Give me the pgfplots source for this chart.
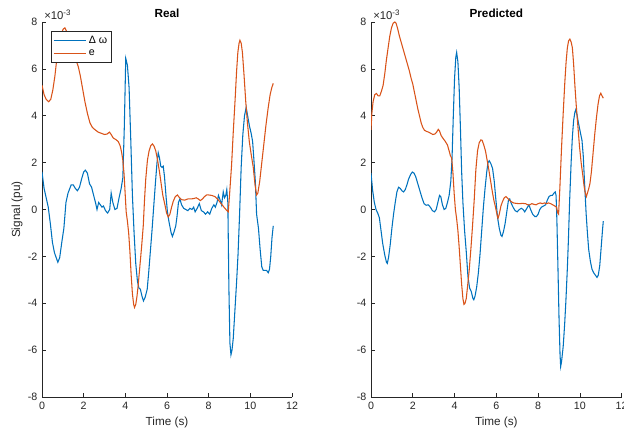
\documentclass[border=0pt]{standalone}
\usepackage{fontspec}
\setmainfont{Liberation Sans}
\usepackage{pgfplots}
\pgfplotsset{compat=1.18}
\definecolor{mblue}{rgb}{0,0.447,0.741}
\definecolor{morange}{rgb}{0.85,0.325,0.098}
\definecolor{mgray}{rgb}{0.15,0.15,0.15}

% matlab-ish subplot look
\pgfplotsset{msub/.style={
  scale only axis, width=187.5pt, height=281.25pt,
  xmin=0, xmax=12, ymin=-8, ymax=8,
  axis x line*=bottom, axis y line*=left,
  axis line style={-, draw=mgray, line width=0.5pt},
  tick align=inside, major tick length=2.8pt,
  tick style={draw=mgray, line width=0.5pt},
  xtick={0,2,...,12}, ytick={-8,-6,...,8},
  /pgf/number format/assume math mode=true,
  tick label style={font=\fontsize{8}{9}\selectfont, text=mgray},
  label style={font=\fontsize{8.8}{10}\selectfont, text=mgray},
  title style={font=\bfseries\fontsize{8.8}{10}\selectfont, text=black,
    at={(axis description cs:0.5,1)}, anchor=center, yshift=0.6pt},
  xlabel style={at={(axis description cs:0.5,-0.0685)}, anchor=center},
  ylabel style={at={(axis description cs:-0.1,0.5)}, anchor=center},
  clip mode=individual,
  every axis plot/.append style={line width=0.8pt},
}}

\begin{document}
\begin{tikzpicture}
\useasboundingbox (0,0) rectangle (468pt,324pt);

\begin{axis}[msub, name=L, at={(31.5pt,26.25pt)}, anchor=south west,
  title={Real}, xlabel={Time (s)}, ylabel={Signal (pu)},
  legend style={at={(axis description cs:0.036,0.976)}, anchor=north west,
    draw=mgray, line width=0.5pt, fill=white, inner sep=1.3pt,
    font=\fontsize{8}{9}\selectfont, text=black, row sep=-0.5pt},
  legend cell align=left,
  legend image code/.code={\draw[#1] (0pt,0pt) -- (24pt,0pt);}]
\addplot[mblue] coordinates {
(0,1.6) (0.1,0.9) (0.2,0.5) (0.3,0.1) (0.4,-0.6) (0.5,-1.4) (0.6,-1.85) (0.7,-2.1) (0.76,-2.25)
(0.85,-2.05) (0.95,-1.4) (1.05,-0.8) (1.15,0.3) (1.25,0.7) (1.4,1.05) (1.5,1.05) (1.6,0.9)
(1.7,0.8) (1.8,0.95) (1.9,1.3) (2.0,1.6) (2.08,1.68) (2.18,1.55) (2.28,1.1) (2.38,0.95)
(2.48,0.6) (2.58,0.25) (2.64,0.0) (2.72,0.3) (2.8,0.2) (2.88,0.1) (2.95,0.15) (3.05,-0.05)
(3.15,-0.15) (3.25,0.0) (3.32,0.7) (3.4,0.3) (3.5,0.0) (3.6,0.05) (3.7,0.5) (3.8,0.9)
(3.88,1.35) (3.95,3.5) (4.02,6.45) (4.1,6.15) (4.18,5.2) (4.26,3.0) (4.34,0.6) (4.42,-1.0)
(4.5,-2.3) (4.58,-3.05) (4.65,-3.35) (4.72,-3.4) (4.8,-3.7) (4.87,-3.9) (4.95,-3.75)
(5.05,-3.4) (5.12,-2.7) (5.2,-1.8) (5.28,-0.9) (5.36,0.1) (5.45,1.2) (5.52,2.0) (5.58,2.42)
(5.64,2.2) (5.7,1.85) (5.76,1.8) (5.82,1.85) (5.88,1.4) (5.95,0.6) (6.02,-0.1) (6.1,-0.55)
(6.2,-1.0) (6.26,-1.15) (6.34,-0.95) (6.42,-0.7) (6.48,-0.3) (6.55,0.3) (6.62,0.45) (6.7,0.2)
(6.8,0.05) (6.9,0.0) (7.0,-0.05) (7.1,0.05) (7.2,0.0) (7.28,0.1) (7.35,-0.1) (7.45,0.05)
(7.55,0.25) (7.65,-0.05) (7.75,-0.1) (7.85,-0.2) (7.95,-0.1) (8.05,-0.2) (8.15,0.05)
(8.25,0.2) (8.32,0.1) (8.4,0.3) (8.47,0.6) (8.55,0.4) (8.62,0.2) (8.7,0.75) (8.76,0.5)
(8.82,0.6) (8.87,0.85) (8.92,0.3) (8.97,-3.3) (9.02,-5.7) (9.07,-6.2) (9.12,-6.0) (9.18,-5.5)
(9.26,-4.3) (9.34,-3.1) (9.41,-1.9) (9.48,-0.3) (9.56,1.8) (9.64,3.2) (9.72,4.0) (9.8,4.35)
(9.88,3.95) (9.96,3.55) (10.04,3.25) (10.11,2.9) (10.18,2.0) (10.24,1.2) (10.3,-0.2)
(10.39,-0.8) (10.47,-1.7) (10.55,-2.45) (10.62,-2.6) (10.7,-2.6) (10.78,-2.6) (10.86,-2.7)
(10.92,-2.55) (10.98,-2.0) (11.04,-1.2) (11.1,-0.7)
};
\addlegendentry{Δ ω}
\addplot[morange] coordinates {
(0,5.3) (0.1,4.9) (0.2,4.7) (0.32,4.6) (0.42,4.7) (0.52,5.1) (0.62,5.7) (0.72,6.5) (0.82,7.1)
(0.92,7.5) (1.02,7.7) (1.1,7.75) (1.18,7.6) (1.26,7.4) (1.38,7.0) (1.5,6.7) (1.62,6.4)
(1.74,6.1) (1.84,5.7) (1.94,5.2) (2.06,4.6) (2.18,4.1) (2.3,3.7) (2.42,3.5) (2.55,3.4)
(2.7,3.3) (2.85,3.25) (3.0,3.2) (3.12,3.22) (3.24,3.3) (3.32,3.2) (3.42,3.05) (3.55,2.98)
(3.66,2.9) (3.75,2.72) (3.82,2.45) (3.88,2.1) (3.94,1.5) (3.99,0.7) (4.04,-0.1) (4.1,-0.5)
(4.16,-1.0) (4.22,-1.8) (4.28,-2.8) (4.34,-3.6) (4.4,-4.05) (4.44,-4.18) (4.5,-4.05)
(4.56,-3.7) (4.62,-3.2) (4.7,-2.4) (4.78,-1.6) (4.86,-0.7) (4.92,0.4) (4.98,1.3) (5.06,2.1)
(5.14,2.5) (5.22,2.72) (5.3,2.8) (5.38,2.7) (5.46,2.5) (5.55,2.1) (5.64,1.6) (5.72,1.1)
(5.8,0.6) (5.9,0.2) (5.98,-0.15) (6.06,-0.32) (6.14,-0.2) (6.22,0.1) (6.3,0.35) (6.4,0.55)
(6.5,0.62) (6.6,0.5) (6.7,0.42) (6.85,0.4) (7.0,0.45) (7.15,0.45) (7.3,0.47) (7.4,0.5)
(7.5,0.45) (7.6,0.38) (7.7,0.45) (7.8,0.55) (7.9,0.62) (8.0,0.62) (8.15,0.6) (8.3,0.55)
(8.45,0.42) (8.6,0.25) (8.75,0.08) (8.88,-0.05) (8.94,-0.1) (9.0,0.6) (9.1,1.9) (9.18,3.3)
(9.27,4.7) (9.34,5.9) (9.4,6.7) (9.46,7.1) (9.5,7.22) (9.56,7.1) (9.62,6.7) (9.7,5.7)
(9.78,4.6) (9.86,3.7) (9.95,2.9) (10.05,2.3) (10.14,1.8) (10.22,1.1) (10.3,0.62) (10.36,0.7)
(10.45,1.2) (10.55,2.0) (10.65,2.8) (10.75,3.6) (10.85,4.3) (10.95,4.9) (11.03,5.2) (11.1,5.38)
};
\addlegendentry{e}
\end{axis}

\begin{axis}[msub, name=R, at={(278.25pt,26.25pt)}, anchor=south west, width=188pt,
  title={Predicted}, xlabel={Time (s)}]
\addplot[mblue] coordinates {
(0,1.55) (0.08,0.8) (0.16,0.3) (0.24,0.0) (0.32,-0.15) (0.4,-0.35) (0.48,-0.9) (0.56,-1.45)
(0.66,-1.95) (0.74,-2.25) (0.78,-2.3) (0.84,-2.05) (0.92,-1.5) (1.0,-0.8) (1.08,-0.2)
(1.16,0.3) (1.24,0.75) (1.32,0.95) (1.4,0.9) (1.48,0.8) (1.56,0.75) (1.64,0.85) (1.72,1.05)
(1.8,1.3) (1.9,1.5) (1.98,1.6) (2.06,1.55) (2.14,1.4) (2.24,1.1) (2.34,0.8) (2.44,0.5)
(2.54,0.25) (2.64,0.18) (2.74,0.2) (2.84,0.1) (2.94,-0.05) (3.04,-0.1) (3.12,0.0) (3.2,0.3)
(3.28,0.6) (3.34,0.55) (3.42,0.2) (3.5,0.0) (3.58,0.05) (3.66,0.3) (3.74,0.6) (3.82,1.2)
(3.88,2.2) (3.94,4.0) (4.0,5.6) (4.06,6.5) (4.1,6.7) (4.16,6.3) (4.22,5.2) (4.28,3.5)
(4.34,1.6) (4.4,0.3) (4.48,-0.9) (4.56,-1.8) (4.64,-2.85) (4.72,-3.35) (4.8,-3.5) (4.88,-3.8)
(4.92,-3.85) (4.98,-3.7) (5.06,-3.3) (5.14,-2.7) (5.22,-1.9) (5.3,-0.9) (5.38,0.1) (5.46,0.9)
(5.54,1.6) (5.6,2.0) (5.66,2.08) (5.74,1.95) (5.82,1.75) (5.9,1.2) (5.98,0.4) (6.06,-0.35)
(6.14,-0.8) (6.22,-1.1) (6.27,-1.15) (6.34,-0.95) (6.42,-0.6) (6.5,-0.1) (6.58,0.4)
(6.64,0.45) (6.72,0.25) (6.8,0.1) (6.9,-0.05) (7.0,-0.1) (7.1,0.0) (7.2,0.05) (7.28,0.0)
(7.36,-0.1) (7.46,0.05) (7.56,0.2) (7.64,0.0) (7.74,-0.2) (7.84,-0.3) (7.92,-0.3) (8.0,-0.2)
(8.08,0.0) (8.16,0.1) (8.26,0.15) (8.36,0.2) (8.44,0.4) (8.52,0.55) (8.6,0.6) (8.68,0.6)
(8.76,0.7) (8.82,0.75) (8.86,0.6) (8.9,-0.5) (8.95,-2.5) (9.0,-4.6) (9.05,-6.2) (9.08,-6.7)
(9.12,-6.5) (9.2,-5.85) (9.27,-4.9) (9.33,-3.9) (9.4,-2.5) (9.45,-1.3) (9.51,0.4) (9.58,2.0)
(9.64,3.1) (9.7,3.8) (9.76,4.15) (9.8,4.25) (9.86,4.05) (9.94,3.65) (10.02,3.3) (10.1,2.95)
(10.16,2.3) (10.22,1.2) (10.3,-0.2) (10.36,-1.0) (10.42,-1.7) (10.5,-2.2) (10.58,-2.55)
(10.66,-2.7) (10.74,-2.8) (10.82,-2.9) (10.88,-2.8) (10.95,-2.4) (11.02,-1.6) (11.08,-0.9)
(11.12,-0.5)
};
\addplot[morange] coordinates {
(0,3.4) (0.04,4.1) (0.1,4.6) (0.18,4.9) (0.26,4.95) (0.34,4.85) (0.42,4.85) (0.5,5.05)
(0.58,5.3) (0.66,5.8) (0.74,6.4) (0.82,6.9) (0.9,7.4) (0.98,7.75) (1.06,7.95) (1.14,8.0)
(1.2,7.95) (1.28,7.7) (1.36,7.4) (1.44,7.15) (1.52,6.9) (1.6,6.65) (1.68,6.4) (1.76,6.15)
(1.84,5.9) (1.92,5.6) (2.0,5.35) (2.08,5.0) (2.16,4.65) (2.24,4.3) (2.32,4.0) (2.4,3.7)
(2.48,3.5) (2.56,3.38) (2.66,3.33) (2.76,3.3) (2.86,3.25) (2.96,3.2) (3.06,3.22) (3.14,3.3)
(3.22,3.42) (3.28,3.35) (3.36,3.15) (3.46,3.02) (3.56,2.9) (3.66,2.75) (3.74,2.5) (3.8,2.3)
(3.86,2.2) (3.92,1.6) (3.98,0.7) (4.04,0.0) (4.1,-0.4) (4.16,-0.9) (4.22,-1.6) (4.28,-2.4)
(4.34,-3.2) (4.4,-3.8) (4.45,-4.05) (4.5,-4.0) (4.56,-3.8) (4.62,-3.3) (4.7,-2.6) (4.78,-1.7)
(4.86,-0.7) (4.94,0.4) (5.02,1.7) (5.1,2.5) (5.18,2.85) (5.26,2.97) (5.32,2.95) (5.4,2.75)
(5.48,2.5) (5.56,2.1) (5.64,1.7) (5.72,1.25) (5.8,0.8) (5.88,0.4) (5.96,0.1) (6.04,-0.25)
(6.08,-0.38) (6.14,-0.2) (6.22,0.15) (6.3,0.35) (6.38,0.5) (6.46,0.55) (6.54,0.48) (6.62,0.4)
(6.72,0.33) (6.82,0.28) (6.95,0.26) (7.1,0.25) (7.25,0.26) (7.4,0.25) (7.5,0.2) (7.6,0.2)
(7.7,0.25) (7.8,0.22) (7.9,0.2) (8.0,0.25) (8.1,0.28) (8.2,0.25) (8.3,0.28) (8.4,0.25)
(8.5,0.28) (8.6,0.25) (8.7,0.2) (8.8,0.15) (8.88,0.1) (8.94,-0.15) (8.98,-0.2) (9.04,0.9)
(9.12,2.6) (9.2,4.1) (9.28,5.45) (9.34,6.3) (9.4,6.9) (9.46,7.2) (9.52,7.27) (9.58,7.15)
(9.64,6.9) (9.7,6.2) (9.76,5.3) (9.82,4.5) (9.9,3.6) (9.98,2.7) (10.06,2.0) (10.14,1.45)
(10.2,1.0) (10.26,0.7) (10.31,0.55) (10.36,0.7) (10.42,0.88) (10.48,1.1) (10.55,1.6)
(10.63,2.4) (10.71,3.2) (10.79,3.9) (10.87,4.5) (10.94,4.85) (11.0,4.96) (11.06,4.85)
(11.12,4.75)
};
\end{axis}

\node[anchor=base west, inner sep=0pt, text=mgray, font=\fontsize{8.5}{9}\selectfont]
  at ([xshift=1.5pt,yshift=2.2pt]L.north west) {×10\textsuperscript{-3}};
\node[anchor=base west, inner sep=0pt, text=mgray, font=\fontsize{8.5}{9}\selectfont]
  at ([xshift=1.5pt,yshift=2.2pt]R.north west) {×10\textsuperscript{-3}};
\end{tikzpicture}
\end{document}
